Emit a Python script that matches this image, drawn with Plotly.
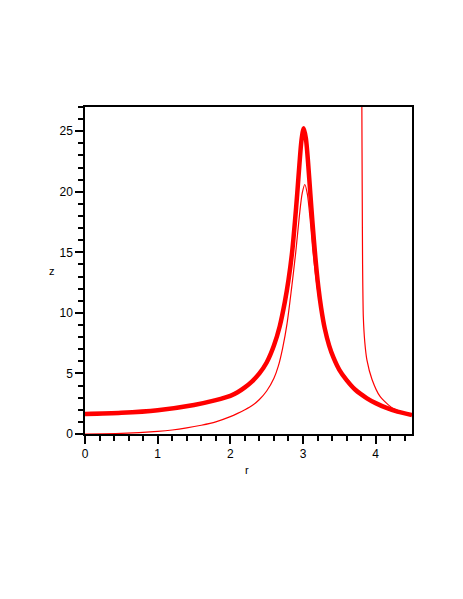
import plotly.graph_objects as go

# Thick curve
r_thick = [0.0, 0.5, 1.0, 1.5, 1.8, 2.0, 2.1, 2.2, 2.3, 2.4, 2.5, 2.6, 2.68, 2.75, 2.80, 2.85, 2.89,
           2.92, 2.95, 2.98, 3.01, 3.04, 3.07, 3.10, 3.13, 3.17, 3.21, 3.25, 3.30, 3.36, 3.42, 3.50,
           3.60, 3.72, 3.88, 4.00, 4.15, 4.30, 4.50]
z_thick = [1.65, 1.75, 1.97, 2.4, 2.8, 3.15, 3.45, 3.85, 4.35, 5.0, 5.9, 7.3, 8.9, 10.9, 12.7, 15.0, 17.6,
           19.8, 22.2, 24.3, 25.25, 24.4, 22.4, 19.9, 17.5, 14.6, 12.2, 10.4, 8.7, 7.3, 6.3, 5.3,
           4.45, 3.65, 2.95, 2.55, 2.15, 1.85, 1.57]

# Thin curve starting at zero
r_thin = [0.0, 0.5, 1.0, 1.2, 1.4, 1.6, 1.8, 2.0, 2.1, 2.2, 2.3, 2.4, 2.5, 2.6, 2.66, 2.72, 2.78, 2.84,
          2.90, 2.95, 2.99, 3.025, 3.06, 3.10, 3.14, 3.20, 3.27, 3.35, 3.45, 3.60, 3.72, 3.88, 4.00,
          4.15, 4.30, 4.50]
z_thin = [0.0, 0.05, 0.22, 0.33, 0.5, 0.72, 1.0, 1.43, 1.7, 2.0, 2.35, 2.85, 3.55, 4.6, 5.6, 7.1, 9.1, 11.9,
          15.0, 18.0, 19.9, 20.6, 19.8, 17.6, 14.9, 11.9, 9.4, 7.4, 5.8, 4.6, 3.75, 3.0, 2.6,
          2.15, 1.87, 1.57]

# Curve with vertical asymptote
r_asym = [3.805, 3.81, 3.815, 3.82, 3.83, 3.85, 3.88, 3.95, 4.06, 4.24, 4.50]
z_asym = [40.0, 27.0, 20.0, 14.0, 9.7, 7.6, 6.1, 4.5, 3.1, 2.1, 1.57]

x_ticks = [0, 1, 2, 3, 4]
y_ticks = [0, 5, 10, 15, 20, 25]

FONT = "Liberation Sans, Arial, Helvetica, sans-serif"

fig = go.Figure()
fig.add_trace(go.Scatter(x=r_asym, y=z_asym, mode="lines",
                         line=dict(color="#ff0000", width=1.2, shape="spline", smoothing=0.6)))
fig.add_trace(go.Scatter(x=r_thin, y=z_thin, mode="lines",
                         line=dict(color="#ff0000", width=1.2, shape="spline", smoothing=0.8)))
fig.add_trace(go.Scatter(x=r_thick, y=z_thick, mode="lines",
                         line=dict(color="#ff0000", width=4.5, shape="spline", smoothing=0.8)))

axis_common = dict(showgrid=False, zeroline=False, showline=True, linecolor="black", linewidth=1.5,
                   mirror=True, ticks="outside", ticklen=8, tickwidth=1.5, tickcolor="black",
                   tickfont=dict(family=FONT, size=12, color="#000000"))

fig.update_xaxes(range=[0, 4.5], tickvals=x_ticks, ticktext=[str(v) for v in x_ticks],
                 minor=dict(dtick=0.2, tick0=0, ticks="outside", ticklen=5, tickwidth=1.5, tickcolor="black"),
                 **axis_common)
fig.update_yaxes(range=[0, 27], tickvals=y_ticks, ticktext=[str(v) for v in y_ticks],
                 minor=dict(dtick=1, tick0=0, ticks="outside", ticklen=5, tickwidth=1.5, tickcolor="black"),
                 **axis_common)

fig.add_annotation(text="r", x=0.495, y=-0.11, xref="paper", yref="paper", showarrow=False,
                   xanchor="center", yanchor="middle",
                   font=dict(family=FONT, size=11, color="#000000"))
fig.add_annotation(text="z", x=-0.101, y=0.5, xref="paper", yref="paper", showarrow=False,
                   xanchor="center", yanchor="middle",
                   font=dict(family=FONT, size=11, color="#000000"))

fig.update_layout(template="none", width=463, height=599, margin=dict(l=77, r=59, t=99, b=173),
                  font=dict(family=FONT, color="#000000"),
                  paper_bgcolor="white", plot_bgcolor="white", showlegend=False)

fig.write_html("out.html")
